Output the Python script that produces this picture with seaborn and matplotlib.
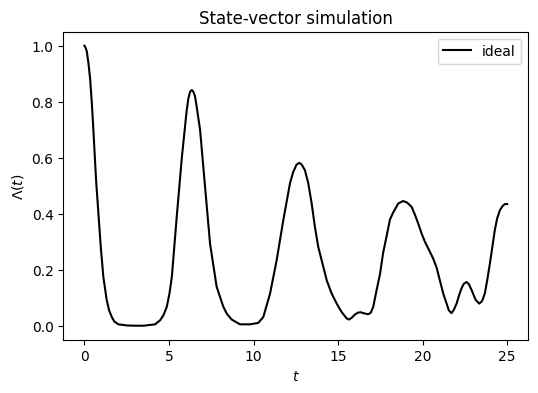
import numpy as np
import pandas as pd
import seaborn as sns
import matplotlib
matplotlib.use("Agg")
import matplotlib.pyplot as plt

# Loschmidt echo
t_vals = [0.0, 0.06, 0.14, 0.24, 0.34, 0.44, 0.53, 0.69, 0.83, 0.97, 1.12, 1.32, 1.46, 1.62,
          1.77, 2.01, 2.5, 3.0, 3.5, 4.18, 4.47, 4.67, 4.87, 5.03, 5.17, 5.46, 5.76, 6.05,
          6.15, 6.25, 6.35, 6.44, 6.54, 6.64, 6.84, 7.13, 7.43, 7.82, 8.02, 8.22, 8.42, 8.71,
          9.2, 9.79, 10.28, 10.58, 10.98, 11.37, 11.76, 12.16, 12.35, 12.55, 12.71, 12.85,
          13.04, 13.24, 13.44, 13.63, 13.83, 14.13, 14.33, 14.62, 14.92, 15.21, 15.51, 15.64,
          15.8, 16.0, 16.19, 16.35, 16.49, 16.78, 16.93, 17.08, 17.28, 17.48, 17.67, 17.87,
          18.07, 18.26, 18.56, 18.85, 19.09, 19.35, 19.54, 19.74, 19.94, 20.14, 20.39, 20.63,
          20.83, 21.02, 21.22, 21.42, 21.55, 21.71, 21.85, 22.01, 22.16, 22.3, 22.44, 22.6,
          22.74, 22.9, 23.13, 23.35, 23.52, 23.68, 23.82, 23.98, 24.14, 24.27, 24.41, 24.57,
          24.73, 24.86, 25.0]
echo_vals = [1.0, 0.994, 0.98, 0.937, 0.88, 0.794, 0.70, 0.52, 0.40, 0.28, 0.175, 0.092, 0.056,
             0.032, 0.016, 0.006, 0.002, 0.001, 0.001, 0.006, 0.02, 0.038, 0.068, 0.116, 0.175,
             0.39, 0.60, 0.77, 0.812, 0.836, 0.842, 0.836, 0.82, 0.782, 0.70, 0.50, 0.294, 0.14,
             0.104, 0.068, 0.044, 0.023, 0.006, 0.006, 0.011, 0.032, 0.116, 0.235, 0.377, 0.51,
             0.55, 0.576, 0.582, 0.576, 0.556, 0.509, 0.437, 0.354, 0.282, 0.211, 0.163, 0.116,
             0.08, 0.05, 0.027, 0.023, 0.029, 0.041, 0.048, 0.049, 0.046, 0.042, 0.047, 0.068,
             0.128, 0.185, 0.262, 0.32, 0.38, 0.405, 0.437, 0.446, 0.44, 0.425, 0.398, 0.366,
             0.33, 0.30, 0.27, 0.24, 0.208, 0.163, 0.116, 0.08, 0.056, 0.046, 0.058, 0.08, 0.11,
             0.134, 0.151, 0.157, 0.149, 0.128, 0.094, 0.08, 0.089, 0.116, 0.163, 0.223, 0.288,
             0.342, 0.384, 0.413, 0.428, 0.435, 0.435]

df = pd.DataFrame({"t": t_vals, "echo": echo_vals})

fig, ax = plt.subplots(figsize=(6, 4))
sns.lineplot(data=df, x="t", y="echo", color="k", linewidth=1.5, label="ideal", ax=ax)
ax.set_title("State-vector simulation")
ax.set_xlabel("$t$")
ax.set_ylabel(r"$\Lambda(t)$")
ax.legend(loc="upper right")
plt.savefig("out.png", dpi=100, bbox_inches="tight")
